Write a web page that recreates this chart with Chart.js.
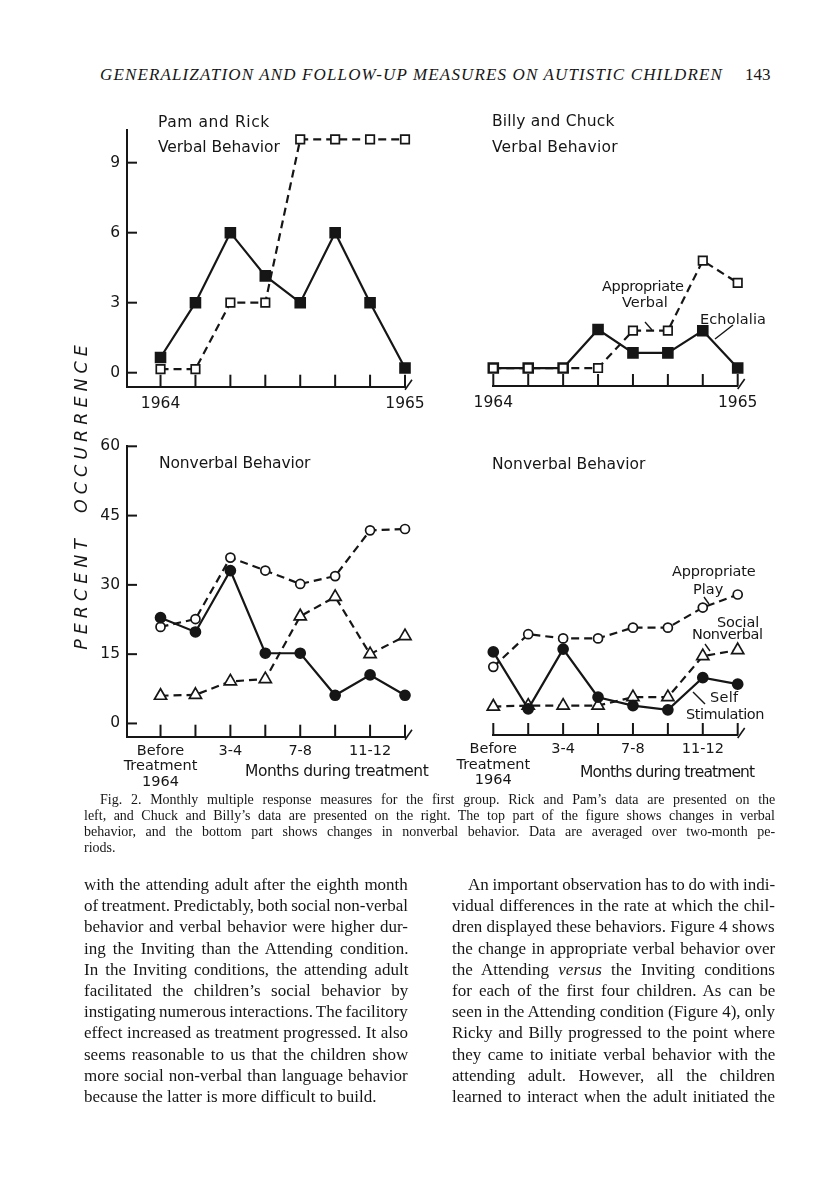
<!DOCTYPE html>
<html>
<head>
<meta charset="utf-8">
<title>Fig. 2 - Monthly multiple response measures</title>
<script src="https://cdn.jsdelivr.net/npm/chart.js@4.4.1/dist/chart.umd.min.js"></script>
<style>
  html, body { margin: 0; padding: 0; background: #fff; }
  #page { position: relative; width: 816px; height: 1195px; overflow: hidden; background: #fff; color: #161616; }
  canvas { position: absolute; }
  .t { position: absolute; white-space: nowrap; display: inline-block; }
  .sans { font-family: "DejaVu Sans", sans-serif; font-size: 15.5px; line-height: 16px; }
  .sm { font-size: 14.5px; }
  .serif { font-family: "Liberation Serif", "DejaVu Serif", serif; }
  .cap { font-size: 14px; line-height: 16px; }
  .txt { font-size: 17px; line-height: 21px; }
  .head { font-size: 17px; line-height: 20px; font-style: italic; }
  #ylab { font-family: "DejaVu Sans", sans-serif; font-style: oblique; font-size: 17.5px; line-height: 18px; position: absolute; white-space: nowrap; }
  svg { position: absolute; left: 0; top: 0; }
</style>
</head>
<body>
<div id="page">

  <!-- running head -->
  <span class="t serif head" style="left:100px;top:65px" data-w="623" data-fit="letter">GENERALIZATION AND FOLLOW-UP MEASURES ON AUTISTIC CHILDREN</span>
  <span class="t serif head" style="left:745px;top:65px;font-style:normal">143</span>

  <!-- charts -->
  <canvas id="tl" width="380" height="330" style="left:60px;top:100px"></canvas>
  <canvas id="tr" width="340" height="330" style="left:440px;top:100px"></canvas>
  <canvas id="bl" width="380" height="370" style="left:60px;top:430px"></canvas>
  <canvas id="br" width="340" height="370" style="left:440px;top:430px"></canvas>

  <!-- panel labels -->
  <span class="t sans" style="left:158px;top:114px" data-w="112" data-fit="letter">Pam and Rick</span>
  <span class="t sans" style="left:158px;top:139px" data-w="122" data-fit="letter">Verbal Behavior</span>
  <span class="t sans" style="left:492px;top:113px" data-w="123" data-fit="letter">Billy and Chuck</span>
  <span class="t sans" style="left:492px;top:139px" data-w="126" data-fit="letter">Verbal Behavior</span>
  <span class="t sans sm" style="left:602px;top:278px" data-w="82" data-fit="letter">Appropriate</span>
  <span class="t sans sm" style="left:622px;top:294px" data-w="46" data-fit="letter">Verbal</span>
  <span class="t sans sm" style="left:700px;top:311px" data-w="66" data-fit="letter">Echolalia</span>
  <span class="t sans" style="left:159px;top:455px" data-w="151" data-fit="letter">Nonverbal Behavior</span>
  <span class="t sans" style="left:492px;top:456px" data-w="153" data-fit="letter">Nonverbal Behavior</span>
  <span class="t sans" style="left:245px;top:763px" data-w="183" data-fit="letter">Months during treatment</span>
  <span class="t sans" style="left:580px;top:764px" data-w="174" data-fit="letter">Months during treatment</span>
  <span class="t sans sm" style="left:672px;top:563px" data-w="84" data-fit="letter">Appropriate</span>
  <span class="t sans sm" style="left:693px;top:581px" data-w="30" data-fit="letter">Play</span>
  <span class="t sans sm" style="left:717px;top:614px" data-w="42" data-fit="letter">Social</span>
  <span class="t sans sm" style="left:692px;top:626px" data-w="71" data-fit="letter">Nonverbal</span>
  <span class="t sans sm" style="left:710px;top:689px" data-w="28" data-fit="letter">Self</span>
  <span class="t sans sm" style="left:686px;top:706px" data-w="78" data-fit="letter">Stimulation</span>

  <span id="ylab" data-w="310" data-fit="letter">PERCENT&nbsp;&nbsp;OCCURRENCE</span>

  <svg width="816" height="1195" stroke="#161616" stroke-width="1.4" fill="none">
    <line x1="645" y1="322" x2="652" y2="330"/>
    <line x1="733" y1="325" x2="715" y2="339"/>
    <line x1="704" y1="597" x2="709" y2="604"/>
    <line x1="705" y1="644" x2="710" y2="651"/>
    <line x1="693" y1="692" x2="705" y2="704"/>
  </svg>

  <!-- caption -->
  <span class="t serif cap" style="left:100px;top:792px" data-w="675" data-fit="word">Fig. 2. Monthly multiple response measures for the first group. Rick and Pam’s data are presented on the</span>
  <span class="t serif cap" style="left:84px;top:808px" data-w="691" data-fit="word">left, and Chuck and Billy’s data are presented on the right. The top part of the figure shows changes in verbal</span>
  <span class="t serif cap" style="left:84px;top:824px" data-w="691" data-fit="word">behavior, and the bottom part shows changes in nonverbal behavior. Data are averaged over two-month pe-</span>
  <span class="t serif cap" style="left:84px;top:840px">riods.</span>

  <!-- body text, two columns -->
  <div id="colL" style="position:absolute;left:84px;top:874px"></div>
  <div id="colR" style="position:absolute;left:452px;top:874px"></div>
</div>

<script>
var ink = '#161616';

// tick labels / categories (two-month periods, 8 points per series)
var topTickLabels = ['1964', '', '', '', '', '', '', '1965'];
var bottomTickLabels = [['Before', 'Treatment', '1964'], '', '3-4', '', '7-8', '', '11-12', ''];
var verbalTicks = [0, 3, 6, 9];
var nonverbalTicks = [0, 15, 30, 45, 60];

// Pam and Rick - verbal behavior
var pamRickSolid = [0.65, 3.0, 6.0, 4.15, 3.0, 6.0, 3.0, 0.2];
var pamRickDashed = [0.15, 0.15, 3.0, 3.0, 10.0, 10.0, 10.0, 10.0];

// Billy and Chuck - verbal behavior
var echolalia = [0.2, 0.2, 0.2, 1.85, 0.85, 0.85, 1.8, 0.2];
var appropriateVerbal = [0.2, 0.2, 0.2, 0.2, 1.8, 1.8, 4.8, 3.85];

// Pam and Rick - nonverbal behavior
var pamRickDots = [22.9, 19.8, 33.1, 15.2, 15.2, 6.1, 10.5, 6.1];
var pamRickCircles = [20.9, 22.6, 35.9, 33.1, 30.2, 31.9, 41.8, 42.1];
var pamRickTriangles = [6.0, 6.2, 9.1, 9.6, 23.2, 27.4, 15.0, 18.9];

// Billy and Chuck - nonverbal behavior
var selfStimulation = [15.3, 3.1, 15.9, 5.6, 3.8, 2.9, 9.8, 8.4];
var appropriatePlay = [12.1, 19.1, 18.2, 18.2, 20.5, 20.5, 24.8, 27.6];
var socialNonverbal = [3.6, 3.8, 3.8, 3.8, 5.6, 5.6, 14.4, 15.7];

var leftLines = [
  'with the attending adult after the eighth month',
  'of treatment. Predictably, both social non-verbal',
  'behavior and verbal behavior were higher dur-',
  'ing the Inviting than the Attending condition.',
  'In the Inviting conditions, the attending adult',
  'facilitated the children’s social behavior by',
  'instigating numerous interactions. The facilitory',
  'effect increased as treatment progressed. It also',
  'seems reasonable to us that the children show',
  'more social non-verbal than language behavior',
  'because the latter is more difficult to build.'
];
var rightLines = [
  'An important observation has to do with indi-',
  'vidual differences in the rate at which the chil-',
  'dren displayed these behaviors. Figure 4 shows',
  'the change in appropriate verbal behavior over',
  'the Attending <i>versus</i> the Inviting conditions',
  'for each of the first four children. As can be',
  'seen in the Attending condition (Figure 4), only',
  'Ricky and Billy progressed to the point where',
  'they came to initiate verbal behavior with the',
  'attending adult. However, all the children',
  'learned to interact when the adult initiated the'
];

function addLines(box, lines, width, lastFree, indent) {
  lines.forEach(function (line, i) {
    var s = document.createElement('span');
    s.className = 't serif txt';
    var ind = (i === 0 && indent) ? indent : 0;
    s.style.left = ind + 'px';
    s.style.top = (i * 21.2) + 'px';
    s.innerHTML = line;
    if (!(lastFree && i === lines.length - 1)) {
      s.setAttribute('data-w', width - ind);
      s.setAttribute('data-fit', 'word');
    }
    box.appendChild(s);
  });
}
addLines(document.getElementById('colL'), leftLines, 324, true, 0);
addLines(document.getElementById('colR'), rightLines, 323, false, 16);

// stretch every text line to the width it has in the scan
document.querySelectorAll('[data-w]').forEach(function (el) {
  var target = parseFloat(el.getAttribute('data-w'));
  var diff = target - el.offsetWidth;
  var txt = el.textContent;
  if (el.getAttribute('data-fit') === 'word') {
    var n = (txt.match(/ /g) || []).length;
    if (n) el.style.wordSpacing = (diff / n) + 'px';
  } else {
    el.style.letterSpacing = (diff / txt.length) + 'px';
  }
});

var ylab = document.getElementById('ylab');
ylab.style.left = (81 - ylab.offsetWidth / 2) + 'px';
ylab.style.top = (495 - ylab.offsetHeight / 2) + 'px';
ylab.style.transform = 'rotate(-90deg)';

Chart.defaults.font.family = '"DejaVu Sans", sans-serif';
Chart.defaults.color = ink;

function series(values, shape, filled, dashed, radius) {
  return {
    data: values.map(function (v, i) { return { x: i, y: v }; }),
    borderColor: ink,
    borderWidth: 2.2,
    borderDash: dashed ? [8, 5] : [],
    pointStyle: shape,
    pointRadius: radius,
    pointBackgroundColor: filled ? ink : '#fff',
    pointBorderColor: ink,
    pointBorderWidth: 1.7,
    tension: 0,
    fill: false,
    clip: false
  };
}

// ticks point inward, and the x axis ends with a small break mark
var inwardTicks = {
  id: 'inwardTicks',
  beforeDatasetsDraw: function (chart) {
    var ctx = chart.ctx, xs = chart.scales.x, ys = chart.scales.y, a = chart.chartArea;
    ctx.save();
    ctx.strokeStyle = ink;
    ctx.lineWidth = 2;
    xs.ticks.forEach(function (t) {
      var px = xs.getPixelForValue(t.value);
      ctx.beginPath();
      ctx.moveTo(px, a.bottom);
      ctx.lineTo(px, a.bottom - 12);
      ctx.stroke();
    });
    if (ys.options.display) {
      ys.ticks.forEach(function (t) {
        var py = ys.getPixelForValue(t.value);
        ctx.beginPath();
        ctx.moveTo(a.left, py);
        ctx.lineTo(a.left + 10, py);
        ctx.stroke();
      });
    }
    var ex = xs.getPixelForValue(xs.max);
    ctx.lineWidth = 1.6;
    ctx.beginPath();
    ctx.moveTo(ex, a.bottom + 3);
    ctx.lineTo(ex + 7, a.bottom - 7);
    ctx.stroke();
    ctx.restore();
  }
};

function panel(id, datasets, c) {
  return new Chart(document.getElementById(id), {
    type: 'line',
    data: { datasets: datasets },
    options: {
      responsive: false,
      animation: false,
      devicePixelRatio: 1,
      events: [],
      layout: { padding: c.padding },
      plugins: { legend: { display: false }, tooltip: { enabled: false } },
      scales: {
        x: {
          type: 'linear',
          min: c.xMin,
          max: 7,
          afterBuildTicks: function (s) { s.ticks = c.xLabels.map(function (l, i) { return { value: i }; }); },
          afterFit: function (s) { s.height = c.xHeight; },
          grid: { display: false, drawTicks: false },
          border: { display: true, color: ink, width: 2 },
          ticks: {
            autoSkip: false,
            maxRotation: 0,
            padding: c.xPad,
            font: { size: c.xFont, lineHeight: 1.05 },
            callback: function (v) { return c.xLabels[v]; }
          }
        },
        y: {
          display: c.showY,
          min: c.yMin,
          max: c.yMax,
          afterBuildTicks: function (s) { s.ticks = c.yTicks.map(function (v) { return { value: v }; }); },
          afterFit: function (s) { s.width = c.yWidth; },
          grid: { display: false, drawTicks: false },
          border: { display: true, color: ink, width: 2 },
          ticks: { padding: 7, font: { size: 15.5 } }
        }
      }
    },
    plugins: [inwardTicks]
  });
}

panel('tl', [
  series(pamRickDashed, 'rect', false, true, 6),
  series(pamRickSolid, 'rect', true, false, 7)
], {
  padding: { top: 30, right: 35, bottom: 0, left: 0 },
  xMin: -0.96, xLabels: topTickLabels, xHeight: 43.3, xFont: 15.5, xPad: 9,
  showY: true, yMin: -0.6, yMax: 10.4, yTicks: verbalTicks, yWidth: 67
});

panel('tr', [
  series(appropriateVerbal, 'rect', false, true, 6),
  series(echolalia, 'rect', true, false, 7)
], {
  padding: { top: 30, right: 42.3, bottom: 0, left: 53.3 },
  xMin: 0, xLabels: topTickLabels, xHeight: 44, xFont: 15.5, xPad: 9,
  showY: false, yMin: -0.57, yMax: 10.4, yTicks: verbalTicks, yWidth: 0
});

panel('bl', [
  series(pamRickDots, 'circle', true, false, 5),
  series(pamRickCircles, 'circle', false, true, 4.5),
  series(pamRickTriangles, 'triangle', false, true, 7)
], {
  padding: { top: 13.3, right: 35, bottom: 0, left: 0 },
  xMin: -0.96, xLabels: bottomTickLabels, xHeight: 63.3, xFont: 14.5, xPad: 7,
  showY: true, yMin: -2.87, yMax: 60, yTicks: nonverbalTicks, yWidth: 67
});

panel('br', [
  series(selfStimulation, 'circle', true, false, 5),
  series(appropriatePlay, 'circle', false, true, 4.5),
  series(socialNonverbal, 'triangle', false, true, 7)
], {
  padding: { top: 13.3, right: 42.3, bottom: 0, left: 53.3 },
  xMin: 0, xLabels: bottomTickLabels, xHeight: 65, xFont: 14.5, xPad: 7,
  showY: false, yMin: -2.5, yMax: 60, yTicks: nonverbalTicks, yWidth: 0
});
</script>
</body>
</html>
